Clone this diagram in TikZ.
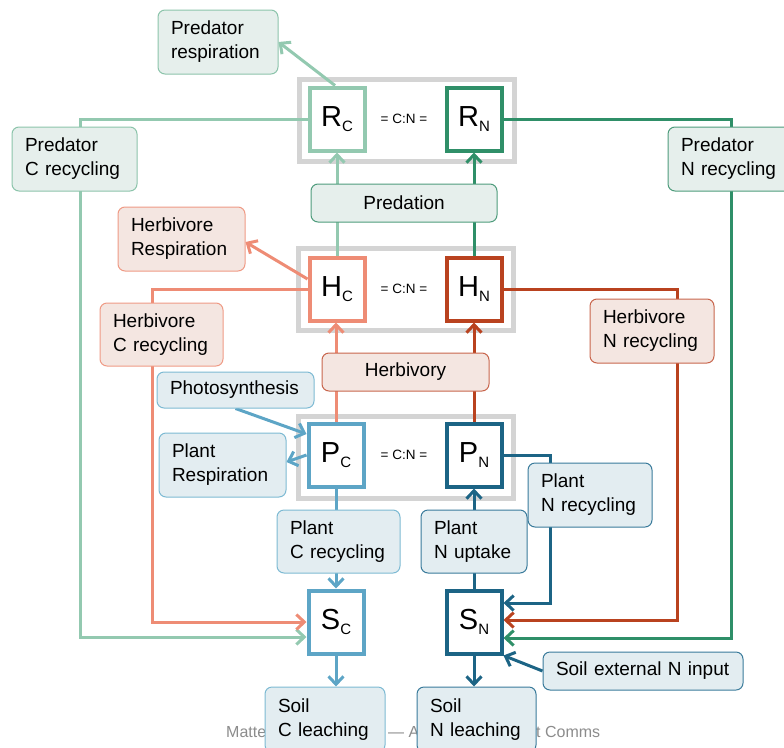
\documentclass[tikz,border=0pt]{standalone}
\usepackage{fontspec}
\setmainfont{Liberation Sans}
\usetikzlibrary{arrows.meta}
\pgfdeclarelayer{bg}\pgfdeclarelayer{mid}
\pgfsetlayers{bg,mid,main}
\definecolor{grp}{HTML}{D4D4D4}
\definecolor{gC}{HTML}{93C9B0}
\definecolor{gN}{HTML}{2F8F68}
\definecolor{hC}{HTML}{EE8C75}
\definecolor{hN}{HTML}{B9421F}
\definecolor{pC}{HTML}{5DA5C6}
\definecolor{pN}{HTML}{1C6485}
\definecolor{gFill}{HTML}{E6EFEC}
\definecolor{hFill}{HTML}{F4E6E1}
\definecolor{pFill}{HTML}{E3EDF1}
\definecolor{gLine}{HTML}{8CC4AB}
\definecolor{gLineD}{HTML}{4E9C7C}
\definecolor{hLine}{HTML}{EF9A85}
\definecolor{hLineD}{HTML}{C8654C}
\definecolor{pLine}{HTML}{7DBAD3}
\definecolor{pLineD}{HTML}{3A7B9B}
\definecolor{wm}{HTML}{8C8C8C}
\newcommand\poollbl[2]{{\fontsize{29}{29}\selectfont #1}\raisebox{-5pt}{\fontsize{15}{15}\selectfont #2}}
\newcommand\lblfont{\fontsize{19}{24}\selectfont}
\begin{document}
\begin{tikzpicture}[x=1pt,y=-1pt,
  pool/.style={draw=#1, line width=4pt, fill=white, minimum width=55pt, minimum height=63pt, inner sep=0pt},
  grpbox/.style={draw=grp, line width=5pt, minimum width=215pt, minimum height=82pt, inner sep=0pt},
  lbl/.style n args={4}{draw=#1, fill=#2, rounded corners=7pt, line width=1pt, align=left, font=\lblfont,
      inner xsep=13pt, inner ysep=0pt, text width=#3-26pt, minimum height=#4},
  clbl/.style n args={4}{lbl={#1}{#2}{#3}{#4}, align=center},
  ratio/.style={font=\fontsize{13.5}{14}\selectfont},
  conn/.style={line width=3pt},
  arr/.style={conn, -{Straight Barb[length=8pt 0,width=15pt 0]}},
  wmark/.style={text=wm, font=\fontsize{16}{16}\selectfont, inner sep=0pt, anchor=west}
]
\useasboundingbox (0,0) rectangle (784,747);

% group frames
\begin{pgfonlayer}{bg}
\node[grpbox] (gR) at (406.5,120) {};
\node[grpbox] (gH) at (406,289) {};
\node[grpbox] (gP) at (405.5,457) {};
\node[wmark] (wm1) at (226,732) {Matte};
\node[wmark] (wm2) at (388,732) {— AC};
\node[wmark] (wm3) at (536,732) {t Comms};
\end{pgfonlayer}

% pools
\node[pool=gC] (RC) at (337,119) {\poollbl{R}{C}};
\node[pool=gN] (RN) at (474,119) {\poollbl{R}{N}};
\node[pool=hC] (HC) at (337,289) {\poollbl{H}{C}};
\node[pool=hN] (HN) at (474,289) {\poollbl{H}{N}};
\node[pool=pC] (PC) at (336,455) {\poollbl{P}{C}};
\node[pool=pN] (PN) at (474,455) {\poollbl{P}{N}};
\node[pool=pC] (SC) at (336,622) {\poollbl{S}{C}};
\node[pool=pN] (SN) at (474,622) {\poollbl{S}{N}};
\node[ratio] (cnR) at (404,119) {= C:N =};
\node[ratio] (cnH) at (404,289) {= C:N =};
\node[ratio] (cnP) at (404,455) {= C:N =};

% labels
\node[lbl={gLine}{gFill}{120pt}{64pt}] (predresp) at (218,42) {Predator\\respiration};
\node[lbl={gLine}{gFill}{125pt}{64pt}] (predC) at (74.5,159) {Predator\\C recycling};
\node[lbl={gLineD}{gFill}{126pt}{64pt}] (predN) at (731,159) {Predator\\N recycling};
\node[clbl={gLineD}{gFill}{186pt}{38pt}] (predation) at (404,203) {Predation};
\node[lbl={hLine}{hFill}{127pt}{64pt}] (herbresp) at (181.5,239) {Herbivore\\Respiration};
\node[lbl={hLine}{hFill}{123pt}{63pt}] (herbC) at (161.5,334.5) {Herbivore\\C recycling};
\node[lbl={hLineD}{hFill}{124pt}{64pt}] (herbN) at (652,331) {Herbivore\\N recycling};
\node[clbl={hLineD}{hFill}{167pt}{38pt}] (herbivory) at (405.5,372) {Herbivory};
\node[lbl={pLine}{pFill}{157pt}{36pt}] (photo) at (235.5,390) {Photosynthesis};
\node[lbl={pLine}{pFill}{127pt}{64pt}] (plantresp) at (222.5,465) {Plant\\Respiration};
\node[lbl={pLine}{pFill}{123pt}{63pt}] (plantC) at (338.5,541.5) {Plant\\C recycling};
\node[lbl={pLineD}{pFill}{106pt}{63pt}] (plantNup) at (474,541.5) {Plant\\N uptake};
\node[lbl={pLineD}{pFill}{124pt}{64pt}] (plantNrec) at (590,495) {Plant\\N recycling};
\node[lbl={pLine}{pFill}{120pt}{65pt}] (soilC) at (325,719.5) {Soil\\C leaching};
\node[lbl={pLineD}{pFill}{119pt}{65pt}] (soilN) at (476.5,719.5) {Soil\\N leaching};
\node[lbl={pLineD}{pFill}{200pt}{38pt}] (extN) at (643,671) {Soil external N input};

% connectors
\begin{pgfonlayer}{mid}
% predator
\draw[arr, gC] ([xshift=-2pt]RC.north) -- (predresp.east);
\draw[arr, gC] (HC.north) -- (RC.south);
\draw[arr, gN] (HN.north) -- (RN.south);
\draw[arr, gC] (RC.west) -| (80,637) -- ([yshift=-15pt]SC.west);
\draw[arr, gN] (RN.east) -| (731,638) -- ([yshift=-16pt]SN.west -| SN.east);
% herbivore
\draw[arr, hC] ([yshift=10pt]HC.west) -- ([yshift=-3pt]herbresp.east);
\draw[arr, hC] (PC.north) -- (PC.north |- HC.south);
\draw[arr, hN] (PN.north) -- (HN.south);
\draw[arr, hC] (HC.west) -| (152,622) -- (SC.west);
\draw[arr, hN] (HN.east) -| (677,620) -- ([yshift=2pt]SN.east);
% plant
\draw[arr, pC] (photo.south) -- ([yshift=21pt]PC.west);
\draw[arr, pC] (PC.west) -- ([yshift=3pt]plantresp.east);
\draw[arr, pC] (PC.south) -- (SC.north);
\draw[arr, pN] (SN.north) -- (PN.south);
\draw[arr, pN] (PN.east) -| (550,603) -- ([yshift=19pt]SN.east);
% soil
\draw[arr, pC] (SC.south) -- (SC.south |- soilC.north);
\draw[arr, pN] (SN.south) -- (SN.south |- soilN.north);
\draw[arr, pN] (extN.west) -- (SN.south east);
\end{pgfonlayer}
\end{tikzpicture}
\end{document}
